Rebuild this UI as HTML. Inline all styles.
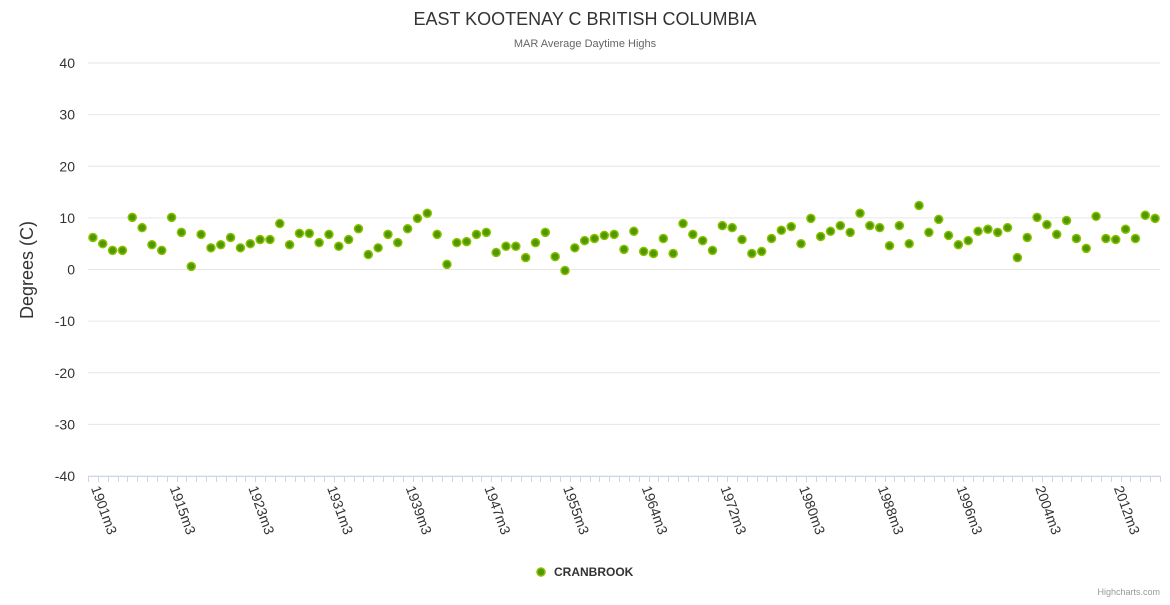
<!DOCTYPE html>
<html><head><meta charset="utf-8"><style>
body{margin:0;background:#fff;font-family:"Liberation Sans",sans-serif;}
</style></head><body>
<svg id="chart" width="1170" height="600" xmlns="http://www.w3.org/2000/svg" style="font-family:'Liberation Sans',sans-serif">
<rect width="1170" height="600" fill="#fff"/>
<text x="585" y="25" text-anchor="middle" font-size="18" fill="#333">EAST KOOTENAY C BRITISH COLUMBIA</text>
<text x="585" y="47" text-anchor="middle" font-size="11" fill="#666">MAR Average Daytime Highs</text>
<text transform="translate(33,270) rotate(-90)" text-anchor="middle" font-size="18" fill="#333">Degrees (C)</text>
<g id="grid"></g><g id="xaxis"></g><g id="points"></g>
<g>
<circle cx="541" cy="572" r="4" fill="#4f9900" stroke="#8cc000" stroke-width="1.5"/>
<text x="554" y="576" font-size="12" font-weight="bold" fill="#333">CRANBROOK</text>
</g>
<text x="1160" y="595" text-anchor="end" font-size="9" fill="#999">Highcharts.com</text>
</svg>
<script>
const yTicks=[40,30,20,10,0,-10,-20,-30,-40];
const years=[1901,1903,1905,1907,1909,1910,1911,1913,
1915,1916,1917,1918,1919,1920,1921,1922,
1923,1924,1925,1926,1927,1928,1929,1930,
1931,1932,1933,1934,1935,1936,1937,1938,
1939,1940,1941,1942,1943,1944,1945,1946,
1947,1948,1949,1950,1951,1952,1953,1954,
1955,1956,1957,1958,1959,1960,1962,1963,
1964,1965,1966,1967,1968,1969,1970,1971,
1972,1973,1974,1975,1976,1977,1978,1979,
1980,1981,1982,1983,1984,1985,1986,1987,
1988,1989,1990,1991,1992,1993,1994,1995,
1996,1997,1998,1999,2000,2001,2002,2003,
2004,2005,2006,2007,2008,2009,2010,2011,
2012,2013,2014,2015,2016];
const values=[6.2,5.0,3.7,3.7,10.1,8.1,4.8,3.7,10.1,7.2,
0.6,6.8,4.2,4.8,6.2,4.2,5.0,5.8,5.8,8.9,
4.8,7.0,7.0,5.2,6.8,4.5,5.8,7.9,2.9,4.2,
6.8,5.2,7.9,9.9,10.9,6.8,1.0,5.2,5.4,6.8,
7.2,3.3,4.5,4.5,2.3,5.2,7.2,2.5,-0.2,4.2,
5.6,6.0,6.6,6.8,3.9,7.4,3.5,3.1,6.0,3.1,
8.9,6.8,5.6,3.7,8.5,8.1,5.8,3.1,3.5,6.0,
7.6,8.3,5.0,9.9,6.4,7.4,8.5,7.2,10.9,8.5,
8.1,4.6,8.5,5.0,12.4,7.2,9.7,6.6,4.8,5.6,
7.4,7.8,7.2,8.1,2.3,6.2,10.1,8.7,6.8,9.5,
6.0,4.1,10.3,6.0,5.8,7.8,6.0,10.5,9.9];
const NS="http://www.w3.org/2000/svg";
const L=88,R=1160,T=63,B=476;
const y=v=>B-(v+40)/80*(B-T);
const n=years.length,w=(R-L)/n;
const x=i=>L+(i+0.5)*w;
function mk(t,a,p){const e=document.createElementNS(NS,t);for(const k in a)e.setAttribute(k,a[k]);p.appendChild(e);return e;}
const grid=document.getElementById('grid');
yTicks.forEach(v=>{
  const l=mk('line',{x1:L,x2:R,y1:y(v),y2:y(v),stroke:'#e6e6e6'},grid);
  
  
  const t=mk('text',{x:75,y:y(v)+5,'text-anchor':'end','font-size':14,fill:'#333'},grid);
  t.textContent=v;
  
  
});
const xa=document.getElementById('xaxis');
const al=mk('line',{x1:L,x2:R,y1:B+0.5,y2:B+0.5,stroke:'#ccd6eb'},xa);


for(let i=0;i<=n;i++){
  const tx=Math.round(L+i*w)+0.5;
  const tk=mk('line',{x1:tx,x2:tx,y1:B,y2:B+6,stroke:'#ccd6eb'},xa);
  
  
}
for(let i=0;i<n;i+=8){
  const t=mk('text',{transform:`translate(${x(i)-2},${B+12}) rotate(70)`,'font-size':14,fill:'#333'},xa);
  t.textContent=years[i]+'m3';
  
  
}
const pts=document.getElementById('points');
values.forEach((v,i)=>{
  const c=mk('circle',{cx:x(i),cy:y(v),r:4,fill:'#4f9900',stroke:'#8cc000','stroke-width':1.5},pts);
  
  
});
</script>
</body></html>
